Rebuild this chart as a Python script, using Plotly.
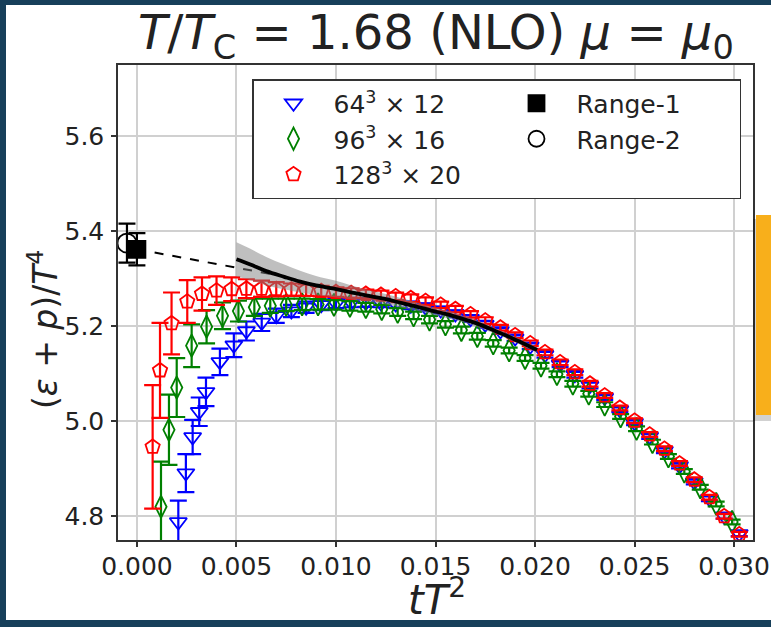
import plotly.graph_objects as go

# ---------------- data ----------------
x_128 = [0.00079, 0.00116, 0.00174, 0.00253, 0.00327, 0.0040, 0.00476, 0.0055, 0.00626, 0.0070,
         0.00776, 0.0085, 0.00926, 0.0100, 0.01076, 0.0115, 0.01226, 0.0130, 0.01376, 0.0145,
         0.01526, 0.0160, 0.01676, 0.0175, 0.01826, 0.0190, 0.01976, 0.0205, 0.02126, 0.0220,
         0.02276, 0.0235, 0.02426, 0.0250, 0.02576, 0.0265, 0.02726, 0.0280, 0.02876, 0.0295, 0.03026]
y_128 = [4.946, 5.107, 5.206, 5.252, 5.268, 5.275, 5.278, 5.279, 5.279, 5.278,
         5.277, 5.276, 5.274, 5.272, 5.270, 5.268, 5.266, 5.263, 5.259, 5.253,
         5.245, 5.236, 5.225, 5.212, 5.197, 5.181, 5.164, 5.145, 5.124, 5.103,
         5.079, 5.054, 5.028, 5.001, 4.972, 4.942, 4.911, 4.877, 4.840, 4.800, 4.762]
e_128 = [0.130, 0.100, 0.065, 0.045, 0.035, 0.030, 0.025, 0.020, 0.017, 0.015,
         0.013, 0.012, 0.011, 0.010, 0.010, 0.009, 0.009, 0.008, 0.008, 0.008,
         0.007, 0.007, 0.007, 0.007, 0.006, 0.006, 0.006, 0.006, 0.006, 0.006,
         0.006, 0.005, 0.005, 0.005, 0.005, 0.005, 0.005, 0.005, 0.005, 0.005, 0.005]

x_96 = [0.00121, 0.00161, 0.0020, 0.00275, 0.0035, 0.0043, 0.0051, 0.0059, 0.0067, 0.0075,
        0.0083, 0.0091, 0.0099, 0.0107, 0.0115, 0.0123, 0.0131, 0.0139, 0.0147, 0.0155,
        0.0163, 0.0171, 0.0179, 0.0187, 0.0195, 0.0203, 0.0211, 0.0219, 0.0227, 0.0235,
        0.0243, 0.0251, 0.0259, 0.0267, 0.0275, 0.0283, 0.0291, 0.0299]
y_96 = [4.820, 4.982, 5.071, 5.159, 5.199, 5.222, 5.232, 5.240, 5.243, 5.245,
        5.246, 5.246, 5.245, 5.243, 5.240, 5.236, 5.230, 5.223, 5.214, 5.204,
        5.192, 5.179, 5.164, 5.149, 5.133, 5.117, 5.099, 5.079, 5.058, 5.035,
        5.010, 4.984, 4.956, 4.926, 4.894, 4.861, 4.826, 4.788]
e_96 = [0.095, 0.074, 0.062, 0.045, 0.035, 0.028, 0.022, 0.018, 0.015, 0.013,
        0.012, 0.011, 0.010, 0.010, 0.009, 0.009, 0.008, 0.008, 0.008, 0.007,
        0.007, 0.007, 0.007, 0.006, 0.006, 0.006, 0.006, 0.006, 0.006, 0.005,
        0.005, 0.005, 0.005, 0.005, 0.005, 0.005, 0.005, 0.005]

x_64 = [0.00208, 0.00246, 0.0028, 0.00313, 0.00347, 0.00417, 0.00487, 0.0055, 0.00627, 0.0070,
        0.00776, 0.0085, 0.00926, 0.0100, 0.01076, 0.0115, 0.01226, 0.0130, 0.01376, 0.0145,
        0.01526, 0.0160, 0.01676, 0.0175, 0.01826, 0.0190, 0.01976, 0.0205, 0.02126, 0.0220,
        0.02276, 0.0235, 0.02426, 0.0250, 0.02576, 0.0265, 0.02726, 0.0280, 0.02876, 0.0295, 0.03026]
y_64 = [4.788, 4.891, 4.967, 5.020, 5.062, 5.125, 5.160, 5.190, 5.208, 5.222,
        5.232, 5.240, 5.245, 5.248, 5.250, 5.250, 5.249, 5.247, 5.244, 5.240,
        5.234, 5.226, 5.216, 5.204, 5.190, 5.175, 5.158, 5.140, 5.120, 5.098,
        5.075, 5.050, 5.024, 4.997, 4.968, 4.938, 4.906, 4.872, 4.837, 4.800, 4.763]
e_64 = [0.045, 0.040, 0.036, 0.030, 0.030, 0.028, 0.025, 0.020, 0.018, 0.015,
        0.013, 0.012, 0.011, 0.010, 0.010, 0.009, 0.009, 0.008, 0.008, 0.008,
        0.007, 0.007, 0.007, 0.007, 0.006, 0.006, 0.006, 0.006, 0.006, 0.006,
        0.006, 0.005, 0.005, 0.005, 0.005, 0.005, 0.005, 0.005, 0.005, 0.005, 0.005]

range1_x = [0.0]
range1_y = [5.362]
range1_e = [0.034]
range2_x = [-0.0005]
range2_y = [5.375]
range2_e = [0.041]

dash_x = [0.0, 0.0075]
dash_y = [5.362, 5.304]

fit_x = [0.0050, 0.0057, 0.0065, 0.0074, 0.0082, 0.0090, 0.0099, 0.0107, 0.0115, 0.0124,
         0.0132, 0.0140, 0.0148, 0.0156, 0.0164, 0.0172, 0.0180, 0.0188, 0.0196, 0.0201]
fit_y = [5.341, 5.330, 5.316, 5.304, 5.294, 5.286, 5.279, 5.272, 5.265, 5.258,
         5.250, 5.242, 5.233, 5.225, 5.215, 5.204, 5.190, 5.176, 5.160, 5.150]
fit_hw = [0.036, 0.033, 0.030, 0.026, 0.023, 0.020, 0.018, 0.015, 0.013, 0.011,
          0.010, 0.009, 0.008, 0.008, 0.007, 0.007, 0.006, 0.006, 0.006, 0.006]

x_ticks = [0.000, 0.005, 0.010, 0.015, 0.020, 0.025, 0.030]
y_ticks = [4.8, 5.0, 5.2, 5.4, 5.6]

labels = ["64<sup>3</sup> × 12", "96<sup>3</sup> × 16", "128<sup>3</sup> × 20", "Range-1", "Range-2"]

# ---------------- figure ----------------
W, H = 771, 627
ML, MR, MT, MB = 118, 18, 65, 87
PW, PH = W - ML - MR, H - MT - MB

def px_x(s):                 # screen pixel -> paper x
    return (s - ML) / PW

def px_y(s):                 # screen pixel -> paper y
    return (H - MB - s) / PH

FONT = "DejaVu Sans"
TXT = "#222222"

fig = go.Figure()

def err_trace(x, y, e, color, symbol, size, name, rank):
    return go.Scatter(
        x=x, y=y, mode="markers", name=name, legendrank=rank,
        marker=dict(symbol=symbol, size=size, color=color,
                    line=dict(color=color, width=1.8)),
        error_y=dict(type="data", array=e, color=color, thickness=2.2, width=8.5),
    )

fig.add_trace(err_trace(x_64, y_64, e_64, "#0000ff", "triangle-down-open", 15, labels[0], 1))
fig.add_trace(err_trace(x_96, y_96, e_96, "#008000", "diamond-tall-open", 16, labels[1], 3))
fig.add_trace(err_trace(x_128, y_128, e_128, "#ff0000", "pentagon-open", 15, labels[2], 5))

fig.add_trace(go.Scatter(x=dash_x, y=dash_y, mode="lines", showlegend=False,
                         line=dict(color="black", width=2, dash="dash")))

band_lo = [a - b for a, b in zip(fit_y, fit_hw)]
band_hi = [a + b for a, b in zip(fit_y, fit_hw)]
fig.add_trace(go.Scatter(x=fit_x, y=band_lo, mode="lines", line=dict(width=0, shape="spline"),
                         showlegend=False))
fig.add_trace(go.Scatter(x=fit_x, y=band_hi, mode="lines", line=dict(width=0, shape="spline"),
                         fill="tonexty", fillcolor="rgba(128,128,128,0.5)", showlegend=False))
fig.add_trace(go.Scatter(x=fit_x, y=fit_y, mode="lines", showlegend=False,
                         line=dict(color="black", width=3.8, shape="spline")))

fig.add_trace(err_trace(range2_x, range2_y, range2_e, "black", "circle-open", 19, labels[4], 4))
fig.add_trace(err_trace(range1_x, range1_y, range1_e, "black", "square", 17, labels[3], 2))

axis_common = dict(
    showgrid=True, gridcolor="#d0d0d0", gridwidth=1.6,
    showline=True, linecolor="#333333", linewidth=1.5, mirror=True,
    ticks="outside", ticklen=5, tickwidth=1.5, tickcolor="#333333",
    tickfont=dict(family=FONT, size=25, color=TXT), zeroline=False,
    automargin=False,
)

fig.update_layout(
    width=W, height=H, autosize=False,
    margin=dict(l=ML, r=MR, t=MT, b=MB, pad=0, autoexpand=False),
    paper_bgcolor="#173f5a",
    plot_bgcolor="rgba(0,0,0,0)",
    font=dict(family=FONT, color=TXT),
    xaxis=dict(range=[-0.00095, 0.03095], tickvals=x_ticks, tickformat=".3f",
               ticklabelstandoff=-2, **axis_common),
    yaxis=dict(range=[4.75, 5.75], tickvals=y_ticks, tickformat=".1f",
               ticklabelstandoff=2, **axis_common),
    legend=dict(
        orientation="h", x=px_x(252), y=px_y(79), xanchor="left", yanchor="top",
        bgcolor="white", bordercolor="#333333", borderwidth=1.5,
        font=dict(family=FONT, size=25, color=TXT),
        entrywidth=158, entrywidthmode="pixels", itemwidth=70,
        traceorder="normal",
    ),
    shapes=[
        dict(type="rect", xref="paper", yref="paper", layer="below",
             x0=px_x(6), x1=px_x(W + 20), y0=px_y(620), y1=px_y(5),
             fillcolor="white", line=dict(width=0)),
        dict(type="rect", xref="paper", yref="paper", layer="above",
             x0=px_x(753), x1=px_x(W + 20), y0=px_y(421), y1=px_y(219),
             fillcolor="rgba(0,0,0,0.18)", line=dict(width=0)),
        dict(type="rect", xref="paper", yref="paper", layer="above",
             x0=px_x(756), x1=px_x(W + 20), y0=px_y(415), y1=px_y(215),
             fillcolor="#f8af1b", line=dict(width=0)),
    ],
    annotations=[
        dict(text="<i>T</i>/<i>T</i><sub>C</sub> = 1.68 (NLO) <i>μ</i> = <i>μ</i><sub>0</sub>",
             xref="paper", yref="paper", x=px_x(435.5), y=px_y(36), xanchor="center", yanchor="middle",
             showarrow=False, font=dict(family=FONT, size=48, color=TXT)),
        dict(text="<i>tT</i><sup>2</sup>",
             xref="paper", yref="paper", x=px_x(437), y=px_y(625), xanchor="center", yanchor="bottom",
             showarrow=False, font=dict(family=FONT, size=40, color=TXT)),
        dict(text="(<i>ε</i> + <i>p</i>)/<i>T</i><sup>4</sup>", textangle=-90,
             xref="paper", yref="paper", x=px_x(43), y=px_y(330), xanchor="center", yanchor="middle",
             showarrow=False, font=dict(family=FONT, size=33, color=TXT)),
    ],
)

fig.write_html("out.html", config={"displayModeBar": False},
               post_script="document.body.style.margin='0';document.body.style.background='#173f5a';")
